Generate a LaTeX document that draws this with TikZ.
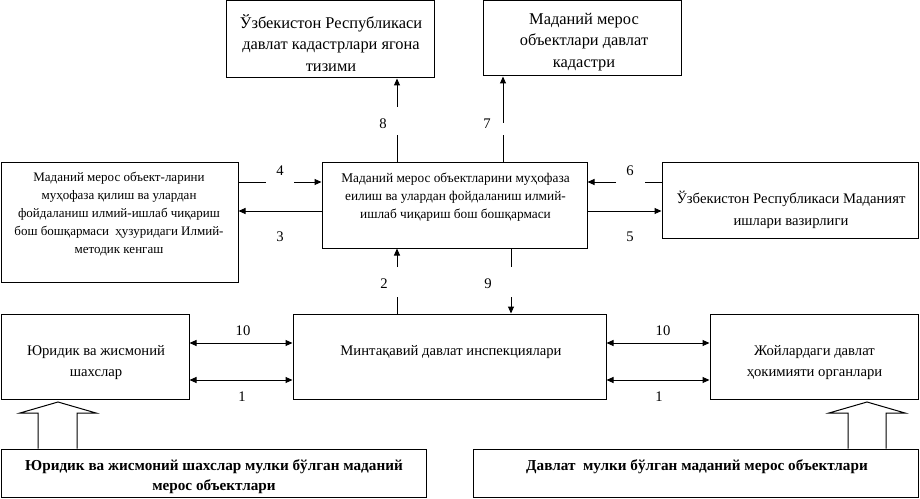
\documentclass[tikz,border=0pt]{standalone}
\usepackage{fontspec}
\setmainfont{Liberation Serif}
\usetikzlibrary{arrows.meta}
\tikzset{
  box/.style 2 args={draw, line width=.75pt, minimum width=#1, minimum height=#2, inner sep=0pt},
  ln/.style={line width=.75pt},
  arr/.style={line width=.75pt, -{Triangle[length=5.25pt,width=4.5pt]}},
  darr/.style={line width=.75pt, {Triangle[length=5.25pt,width=4.5pt]}-{Triangle[length=5.25pt,width=4.5pt]}},
  big/.style={align=center, inner sep=0pt, font=\fontsize{12.3}{16}\selectfont},
  med/.style={align=center, inner sep=0pt, font=\fontsize{11}{16.5}\selectfont},
  bmed/.style={align=center, inner sep=0pt, font=\fontsize{11}{15.75}\selectfont},
  sml/.style={align=center, inner sep=0pt, font=\fontsize{9.75}{13.5}\selectfont},
  smd/.style={align=center, inner sep=0pt, font=\fontsize{10}{13.5}\selectfont},
  bld/.style={align=center, inner sep=0pt, font=\bfseries\fontsize{11.4}{15}\selectfont},
  num/.style={inner sep=0pt, font=\fontsize{11}{13}\selectfont},
}
\begin{document}
\begin{tikzpicture}[x=0.75pt,y=-0.75pt]
\useasboundingbox (0,0) rectangle (920,499);
% boxes
\node[box={156pt}{57.75pt}] (a) at (330,39.5) {};
\node[box={148.5pt}{56.25pt}] (b) at (582,38.5) {};
\node[box={177.75pt}{89.25pt}] (c) at (119.5,222.5) {};
\node[box={198.75pt}{63.75pt}] (d) at (454.5,205.5) {};
\node[box={192pt}{56.25pt}] (e) at (790,200.5) {};
\node[box={141pt}{63.75pt}] (f) at (95,356.5) {};
\node[box={234.75pt}{63.75pt}] (g) at (449.5,356.5) {};
\node[box={156pt}{63.75pt}] (h) at (814,356.5) {};
\node[box={318.75pt}{36pt}] (i) at (213.5,473) {};
\node[box={333.75pt}{36pt}] (j) at (695.5,473) {};
% texts
\node[big] (ta) at (331,43) {Ўзбекистон Республикаси\\давлат кадастрлари ягона\\тизими};
\node[big] (tb) at (584,42) {Маданий мерос\\объектлари давлат\\кадастри};
\node[sml] (tc) at (119,214) {Маданий мерос объект-ларини\\муҳофаза қилиш ва улардан\\фойдаланиш илмий-ишлаб чиқариш\\бош бошқармаси \ ҳузуридаги Илмий-\\методик кенгаш};
\node[smd] (td) at (455.5,197) {Маданий мерос объектларини муҳофаза\\еилиш ва улардан фойдаланиш илмий-\\ишлаб чиқариш бош бошқармаси};
\node[med] (te) at (791,210) {Ўзбекистон Республикаси Маданият\\ишлари вазирлиги};
\node[bmed] (tf) at (96,362.5) {Юридик ва жисмоний\\шахслар};
\node[bmed] (tg) at (451,352) {Минтақавий давлат инспекциялари};
\node[bmed] (th) at (814.5,362.5) {Жойлардаги давлат\\ҳокимияти органлари};
\node[bld] (ti) at (214,477) {Юридик ва жисмоний шахслар мулки бўлган маданий\\мерос объектлари};
\node[bld] (tj) at (697,467) {Давлат \ мулки бўлган маданий мерос объектлари};
% gap coordinates
\coordinate (g8u) at (397,107); \coordinate (g8l) at (397,135);
\coordinate (g7u) at (503,123); \coordinate (g7l) at (503,135);
\coordinate (g4l) at (266,182); \coordinate (g4r) at (294,182);
\coordinate (g6l) at (616,182); \coordinate (g6r) at (645,182);
\coordinate (g3) at (0,211);
\coordinate (g2u) at (397,267); \coordinate (g2l) at (397,297);
\coordinate (g9u) at (511,267); \coordinate (g9l) at (511,297);
\coordinate (y10) at (0,343); \coordinate (y1) at (0,380);
% connectors
\draw[ln] (d.north -| g8l) -- (g8l);
\draw[arr] (g8u) -- (a.south -| g8u);
\draw[ln] (d.north -| g7l) -- (g7l);
\draw[arr] (g7u) -- (b.south -| g7u);
\draw[ln] (c.east |- g4l) -- (g4l);
\draw[arr] (g4r) -- (d.west |- g4r);
\draw[ln] (e.west |- g6r) -- (g6r);
\draw[arr] (g6l) -- (d.east |- g6l);
\draw[arr] (d.west |- g3) -- (c.east |- g3);
\draw[arr] (d.east |- g3) -- (e.west |- g3);
\draw[ln] (g.north -| g2l) -- (g2l);
\draw[arr] (g2u) -- (d.south -| g2u);
\draw[ln] (d.south -| g9u) -- (g9u);
\draw[arr] (g9l) -- (g.north -| g9l);
\draw[darr] (f.east |- y10) -- (g.west |- y10);
\draw[darr] (f.east |- y1) -- (g.west |- y1);
\draw[darr] (g.east |- y10) -- (h.west |- y10);
\draw[darr] (g.east |- y1) -- (h.west |- y1);
% labels
\node[num] (n8) at (383,124) {8};
\node[num] (n7) at (487,124) {7};
\node[num] (n4) at (280,171) {4};
\node[num] (n3) at (280,237) {3};
\node[num] (n6) at (630,171) {6};
\node[num] (n5) at (630,237) {5};
\node[num] (n2) at (384,284) {2};
\node[num] (n9) at (488,284) {9};
\node[num] (n10a) at (243,331) {10};
\node[num] (n1a) at (242,397) {1};
\node[num] (n10b) at (663,331) {10};
\node[num] (n1b) at (659,397) {1};
% block arrows
\draw[ln, line join=miter] (i.north -| 38,0) -- (38,413) -- (20,413) -- (58,402) -- (96,413) -- (77,413) -- (i.north -| 77,0);
\draw[ln, line join=miter] (j.north -| 848,0) -- (848,413) -- (829,413) -- (867,402) -- (905,413) -- (886,413) -- (j.north -| 886,0);
\end{tikzpicture}
\end{document}
